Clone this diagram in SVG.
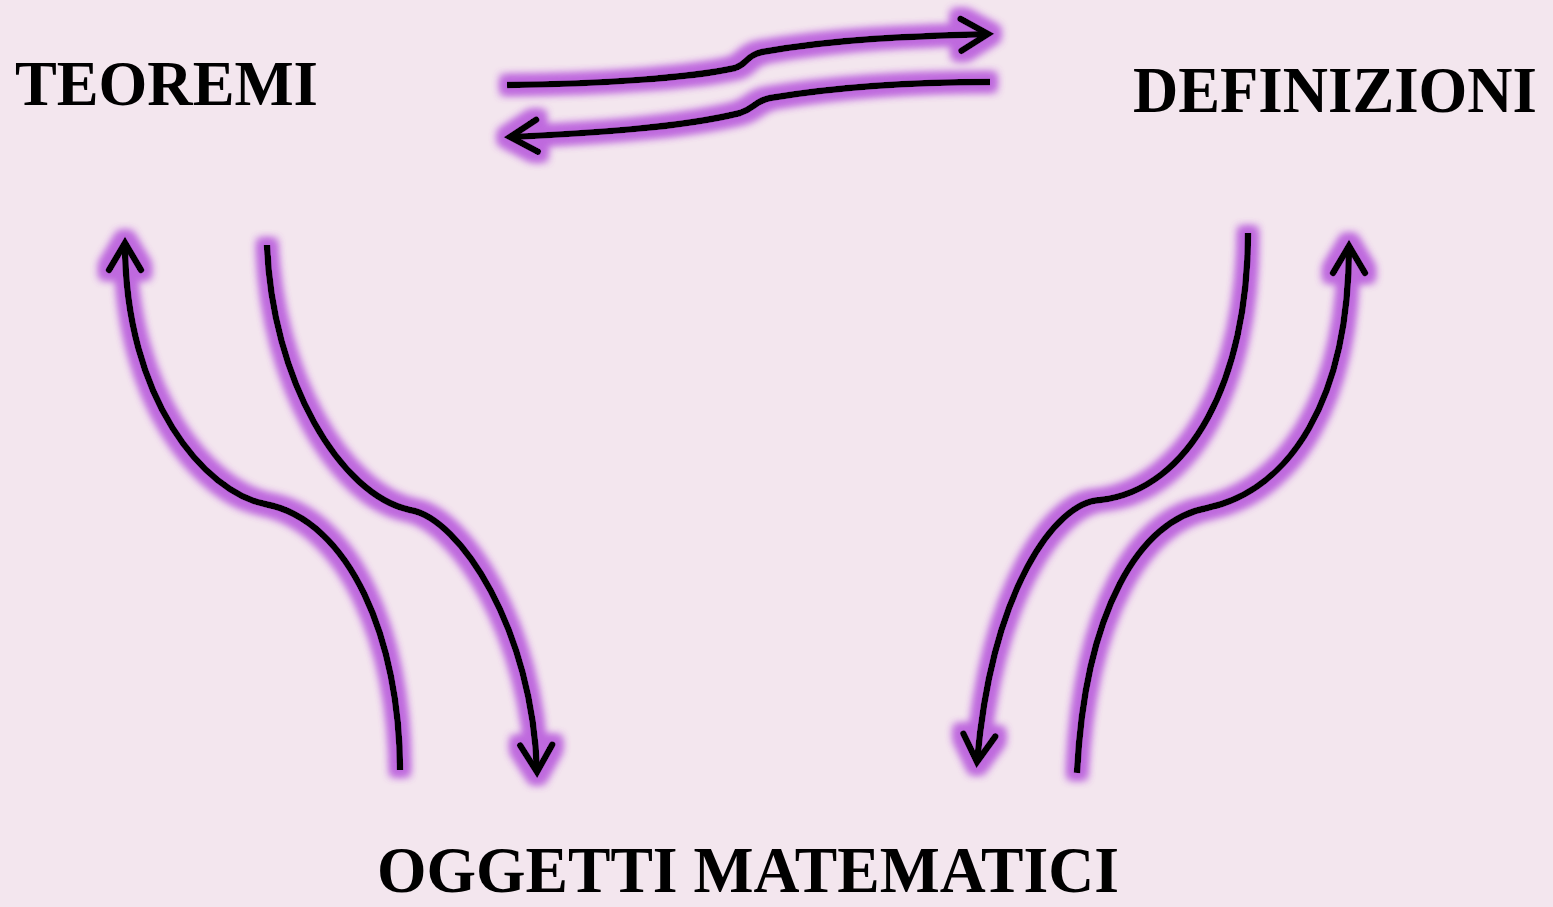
<svg xmlns="http://www.w3.org/2000/svg" width="1553" height="907" viewBox="0 0 1553 907">
<defs>
<style>
.lbl{font-family:"Liberation Serif","Times New Roman",serif;font-weight:bold;fill:#000}
.arr{fill:none;stroke:#000;stroke-width:6.5;stroke-linecap:butt;stroke-linejoin:round}
</style>
<filter id="glow" x="-20%" y="-20%" width="140%" height="140%">
<feMorphology in="SourceAlpha" operator="dilate" radius="6" result="d"/>
<feGaussianBlur in="d" stdDeviation="4.5" result="b"/>
<feFlood flood-color="#bf6ade"/>
<feComposite in2="b" operator="in" result="g"/>
<feMerge><feMergeNode in="g"/><feMergeNode in="g"/><feMergeNode in="SourceGraphic"/></feMerge>
</filter>
<marker id="head" markerUnits="userSpaceOnUse" orient="auto" markerWidth="44" markerHeight="44" viewBox="-34 -22 44 44" refX="0" refY="0">
<path d="M-27,-16 L0,0 L-27,16" fill="none" stroke="#000" stroke-width="6.5" stroke-linecap="round" stroke-linejoin="miter"/>
</marker>
</defs>
<rect width="1553" height="907" fill="#f3e6ee"/>
<g id="teoremi"><text class="lbl" x="15" y="105" font-size="64" textLength="303" lengthAdjust="spacingAndGlyphs">TEOREMI</text></g>
<g id="definizioni"><text class="lbl" x="1133" y="112" font-size="65" textLength="404" lengthAdjust="spacingAndGlyphs">DEFINIZIONI</text></g>
<g id="oggetti"><text class="lbl" x="377" y="892" font-size="66" textLength="742" lengthAdjust="spacingAndGlyphs">OGGETTI MATEMATICI</text></g>
<g id="connectors" filter="url(#glow)">
<path class="arr" marker-end="url(#head)" d="M507,85 C600,84 690,78 735,68 C748,64 745,56 762,52 C840,38 920,36 988,34"/>
<path class="arr" marker-end="url(#head)" d="M990,82 C910,82 830,88 770,98 C755,101 755,108 740,113 C680,128 590,133 510,137"/>
<path class="arr" marker-end="url(#head)" d="M400,770 C400,640 350,520 265,504 C205,492 125,400 125,243"/>
<path class="arr" marker-end="url(#head)" d="M267,245 C272,380 340,495 410,510 C460,518 533,630 537,772"/>
<path class="arr" marker-end="url(#head)" d="M1248,233 C1248,380 1190,490 1100,500 C1055,502 992,590 977,762"/>
<path class="arr" marker-end="url(#head)" d="M1077,773 C1085,610 1140,520 1207,508 C1290,490 1349,400 1349,246"/>
</g>
</svg>
